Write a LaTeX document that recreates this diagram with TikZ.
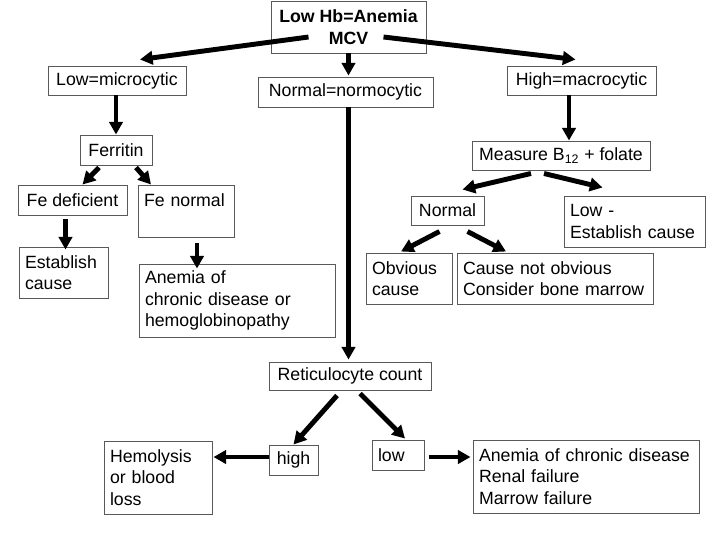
\documentclass[tikz,border=0pt]{standalone}
\usepackage{fontspec}
\setmainfont{Liberation Sans}
\usetikzlibrary{arrows.meta}
\newlength\px
\setlength\px{0.025cm}
\hyphenpenalty=10000

\begin{document}
\begin{tikzpicture}[x=\px, y=-\px,
    box/.style={rectangle, draw=black!65, line width=0.7pt, fill=white,
                font=\fontsize{12.6}{15.2}\selectfont,
                inner xsep=6\px, inner ysep=2\px, align=center},
    bsz/.style 2 args={minimum width=#1\px, minimum height=#2\px},
    tbox/.style 2 args={box, align=left, text width=#1\px, minimum height=#2\px},
    arr/.style={-{Triangle[length=9pt, width=9.5pt]}, line width=3.5pt}
  ]
  \useasboundingbox (0,0) rectangle (720,540);
  % Top
  \node[box, bsz={155}{52}, font=\fontsize{12.6}{15.2}\selectfont\bfseries] (hb) at (348.5,27) {Low Hb=Anemia\\MCV};
  % MCV classes
  \node[box, bsz={138}{29}] (micro) at (117,80.5) {Low=microcytic};
  \node[box, bsz={175}{30}] (normo) at (345.5,92) {Normal=normocytic};
  \node[box, bsz={149}{29}] (macro) at (581.5,80.5) {High=macrocytic};
  % Microcytic branch
  \node[box, bsz={72}{30}] (ferritin) at (116,150) {Ferritin};
  \node[box, bsz={109}{30}] (fedef) at (72.5,200) {Fe deficient};
  \node[tbox={84}{52}] (fenorm) at (186,211) {Fe normal\\~};
  \node[tbox={77}{51}] (establish) at (63.5,272.5) {Establish\\cause};
  \node[tbox={184}{73}] (chronic) at (237,300.5) {Anemia of\\chronic disease or\\hemoglobinopathy};
  % Macrocytic branch
  \node[box, bsz={178}{29}] (measure) at (561,155.5) {Measure B\textsubscript{12} + folate};
  \node[box, bsz={73}{29}] (normal) at (447.5,210.5) {Normal};
  \node[tbox={129}{51}] (lowest) at (634.5,221.5) {Low -\\Establish cause};
  \node[tbox={74}{51}] (obvious) at (409,278.5) {Obvious\\cause};
  \node[tbox={184}{51}] (notobv) at (555,278.5) {Cause not obvious\\Consider bone marrow};
  % Normocytic branch
  \node[box, bsz={162}{28}] (retic) at (350,376) {Reticulocyte count};
  \node[box, bsz={49}{30}] (high) at (293.5,460) {high};
  \node[tbox={40}{30}] (low) at (398,455) {low};
  \node[tbox={96}{73}] (hemo) at (158,477.5) {Hemolysis\\or blood\\loss};
  \node[tbox={214}{73}] (causes) at (586,476.5) {Anemia of chronic disease\\Renal failure\\Marrow failure};

  % Arrows from the top
  \draw[arr] ([shift={(-40,10)}]hb.center) -- ([shift={(23,-6)}]micro.north);
  \draw[arr] ([shift={(35,10)}]hb.center) -- ([shift={(-6,-6)}]macro.north);
  \draw[arr, shorten >=1\px] (hb.south) -- (hb.south |- normo.north);
  % Down the columns
  \draw[arr] ([xshift=-1\px]micro.south) -- ([xshift=-1\px]micro.south |- ferritin.north);
  \draw[arr] ([xshift=-12.5\px]macro.south) -- ([xshift=-12.5\px]macro.south |- measure.north);
  \draw[arr, shorten >=2\px] (hb.south |- normo.south) -- (hb.south |- retic.north);
  % Ferritin
  \draw[arr] ([shift={(-17,2)}]ferritin.south) -- ([shift={(10,0)}]fedef.north);
  \draw[arr] ([shift={(20,2)}]ferritin.south) -- ([shift={(-35,0)}]fenorm.north);
  \draw[arr, shorten >=1\px] ([shift={(-7,4)}]fedef.south) -- ([shift={(-7,4)}]fedef.south |- establish.north);
  \draw[arr, shorten >=1\px] ([shift={(11,6)}]fenorm.south) -- ([shift={(11,6)}]fenorm.south |- chronic.north);
  % B12 + folate
  \draw[arr] ([shift={(-30,3)}]measure.south) -- ([shift={(15,-6)}]normal.north);
  \draw[arr] ([shift={(-17,3)}]measure.south) -- ([shift={(-32,-8)}]lowest.north);
  \draw[arr] ([shift={(-8,6)}]normal.south) -- ([shift={(-8,-1)}]obvious.north);
  \draw[arr] ([shift={(20,6)}]normal.south) -- ([shift={(-49,-1)}]notobv.north);
  % Reticulocytes
  \draw[arr] ([shift={(-13,5)}]retic.south) -- (high.north);
  \draw[arr] ([shift={(10,3)}]retic.south) -- ([shift={(7,-1)}]low.north);
  \draw[arr, shorten >=1\px] ([yshift=3\px]high.west) -- ([yshift=3\px]high.west -| hemo.east);
  \draw[arr, shorten >=6\px] ([shift={(4,2)}]low.east) -- ([shift={(4,2)}]low.east -| causes.west);
\end{tikzpicture}
\end{document}
